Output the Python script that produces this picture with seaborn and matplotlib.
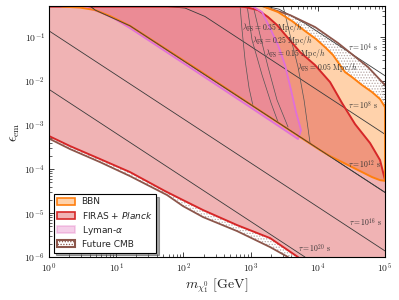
import numpy as np
import pandas as pd
import matplotlib
matplotlib.use("Agg")
import matplotlib.pyplot as plt
import matplotlib.ticker as mticker
from matplotlib.patches import Patch
from matplotlib.font_manager import FontProperties
from matplotlib.colors import to_rgba
import seaborn as sns

# ---------------- data ----------------
# FIRAS + Planck lower boundary
firas_low_m = [1, 2.05, 5.74, 16.0, 53.2, 98.6, 196, 628, 1945, 5070]
firas_low_eps = [5.62e-4, 3.33e-4, 1.69e-4, 8.55e-5, 3.16e-5, 1.97e-5, 1.17e-5, 5.33e-6, 2.70e-6, 1.0e-6]
# FIRAS + Planck upper boundary
firas_up_m = [1, 695, 826, 1289, 1816, 2470, 3603, 5433, 9085, 15190, 22930, 35810, 59850, 84280, 1e5]
firas_up_eps = [0.49, 0.49, 0.481, 0.411, 0.285, 0.1875, 0.0948, 0.0456, 0.0231, 0.00948, 0.00316,
                0.00105, 3.90e-4, 1.60e-4, 5.62e-5]
# BBN lower boundary (follows tau = 1e12 s)
bbn_low_m = [1.3, 1.56, 2.89, 4.84, 8.09, 16.0, 176.6, 979, 5433, 10790, 15190, 21380, 30130,
             45500, 64070, 84280, 1e5]
bbn_low_eps = [0.6, 0.493, 0.468, 0.411, 0.300, 0.18, 0.01687, 0.003, 5.33e-4, 2.70e-4, 1.97e-4,
               1.52e-4, 1.17e-4, 8.55e-5, 6.58e-5, 5.6e-5, 5.4e-5]
# BBN upper boundary
bbn_up_m = [1e5, 84280, 64070, 45500, 32280, 25410, 21380, 16830, 13240, 9400, 6450, 4130, 2558, 1637, 1400]
bbn_up_eps = [2.56e-3, 3.90e-3, 5.62e-3, 8.11e-3, 0.0123, 0.0160, 0.0231, 0.039, 0.0562, 0.0901,
              0.137, 0.231, 0.370, 0.481, 0.6]
# Lyman-alpha boundary
lya_m = [2.5, 2.89, 3.80, 5.74, 9.60, 16.0, 176.6, 979, 2741, 5070, 5623, 4740, 3990, 3250, 2558,
         1945, 1479, 1050, 1000]
lya_eps = [0.6, 0.51, 0.456, 0.370, 0.256, 0.160, 0.0144, 2.56e-3, 9.02e-4, 4.81e-4, 7.69e-4,
           1.97e-3, 6.24e-3, 0.0231, 0.0658, 0.160, 0.370, 0.507, 0.6]
# Future CMB lower / upper boundaries
cmb_low_m = [1, 2.05, 5.74, 16.0, 57.0, 98.6, 196, 628, 1945, 3603]
cmb_low_eps = [4.93e-4, 2.85e-4, 1.44e-4, 6.93e-5, 2.57e-5, 1.44e-5, 8.11e-6, 3.90e-6, 1.69e-6, 1.0e-6]
cmb_up_m = [1e5, 55850, 19990, 9085, 3857, 1479, 1200]
cmb_up_eps = [8.11e-3, 0.0208, 0.0731, 0.169, 0.316, 0.507, 0.6]

# lifetime contours
tau_labels = [r'$\tau = 10^{4}\ \mathrm{s}$', r'$\tau = 10^{8}\ \mathrm{s}$',
              r'$\tau = 10^{12}\ \mathrm{s}$', r'$\tau = 10^{16}\ \mathrm{s}$',
              r'$\tau = 10^{20}\ \mathrm{s}$']
tau_m = [[1500, 2649, 6450, 1e5], [37.8, 105.6, 209, 1e5], [4.0, 4.84, 16.0, 1e5],
         [1, 1e5], [1, 6457]]
tau_eps = [[0.52, 0.43, 0.204, 0.0132], [0.52, 0.456, 0.294, 6.17e-4], [0.52, 0.411, 0.18, 2.95e-5],
           [0.138, 1.38e-6], [6.46e-3, 1e-6]]
tau_text_m = [28130, 28130, 28130, 29110, 5070]
tau_text_eps = [0.0562, 2.70e-3, 1.23e-4, 5.93e-6, 1.52e-6]

# free-streaming contours
lam_labels = [r'$\lambda_{\rm FS} = 0.35\ {\rm Mpc}/h$', r'$\lambda_{\rm FS} = 0.25\ {\rm Mpc}/h$',
              r'$\lambda_{\rm FS} = 0.15\ {\rm Mpc}/h$', r'$\lambda_{\rm FS} = 0.05\ {\rm Mpc}/h$']
lam_m = [[695, 745, 826, 947, 1086], [884, 1050, 1479, 2014, 2558],
         [1086, 1380, 1816, 2470, 3603], [3034, 3857, 5070, 6237, 7656]]
lam_eps = [[0.52, 0.144, 0.030, 6.93e-3, 2.70e-3], [0.52, 0.0855, 0.0137, 3.16e-3, 1.17e-3],
           [0.52, 0.111, 0.0208, 3.70e-3, 9.02e-4], [0.52, 0.111, 0.0208, 3.70e-3, 3.90e-4]]
lam_text_m = [745, 1050, 1637, 4900]
lam_text_eps = [0.169, 0.0855, 0.0433, 0.0208]

x_ticks = [1, 10, 100, 1e3, 1e4, 1e5]
y_ticks = [1e-6, 1e-5, 1e-4, 1e-3, 1e-2, 1e-1]

# ---------------- style ----------------
sns.set_theme(style="ticks")
plt.rcParams['font.family'] = ['DejaVu Sans']
plt.rcParams['mathtext.fontset'] = 'cm'
plt.rcParams['hatch.linewidth'] = 0.6

c_orange = '#ff7f0e'
c_red = '#d62728'
c_pink = '#e377c2'
c_pink_edge = '#e070d8'
c_brown = '#8c564b'

fig = plt.figure(figsize=(3.99, 3.0), dpi=100)
ax = fig.add_axes([0.123, 0.143, 0.842, 0.836])
ax.set_xscale('log')
ax.set_yscale('log')
ax.set_xlim(1, 1e5)
ax.set_ylim(1e-6, 0.5)

# polygons
firas_poly_m = firas_low_m + [1e5] + firas_up_m[::-1]
firas_poly_e = firas_low_eps + [1e-6] + firas_up_eps[::-1]
bbn_poly_m = bbn_low_m + bbn_up_m
bbn_poly_e = bbn_low_eps + bbn_up_eps
cmb_poly_m = cmb_low_m + [1e5] + cmb_up_m + [1]
cmb_poly_e = cmb_low_eps + [1e-6] + cmb_up_eps + [0.6]

# Future CMB hatch
ax.fill(cmb_poly_m, cmb_poly_e, facecolor='none', edgecolor='#b9a9a6', hatch='......', lw=0, zorder=1)
# white underlay
for pm, pe in [(firas_poly_m, firas_poly_e), (bbn_poly_m, bbn_poly_e), (lya_m, lya_eps)]:
    ax.fill(pm, pe, facecolor='white', lw=0, zorder=2)
# coloured fills
ax.fill(bbn_poly_m, bbn_poly_e, facecolor=to_rgba(c_orange, 0.35), lw=0, zorder=3)
ax.fill(firas_poly_m, firas_poly_e, facecolor=to_rgba(c_red, 0.35), lw=0, zorder=3)
ax.fill(lya_m, lya_eps, facecolor=to_rgba(c_pink, 0.35), lw=0, zorder=3)

# lifetime lines
for tm, te in zip(tau_m, tau_eps):
    sns.lineplot(x=tm, y=te, ax=ax, color='#3a3a3a', lw=0.6, sort=False, estimator=None, zorder=4)
for lm_, le_ in zip(lam_m, lam_eps):
    sns.lineplot(x=lm_, y=le_, ax=ax, color='#555555', lw=0.5, sort=False, estimator=None, zorder=4)

# boundaries
sns.lineplot(x=cmb_low_m, y=cmb_low_eps, ax=ax, color=c_brown, lw=1.3, sort=False, estimator=None, zorder=5)
sns.lineplot(x=cmb_up_m, y=cmb_up_eps, ax=ax, color=c_brown, lw=1.3, sort=False, estimator=None, zorder=5)
sns.lineplot(x=firas_low_m, y=firas_low_eps, ax=ax, color=c_red, lw=1.4, sort=False, estimator=None, zorder=6)
sns.lineplot(x=firas_up_m, y=firas_up_eps, ax=ax, color=c_red, lw=1.4, sort=False, estimator=None, zorder=6)
sns.lineplot(x=lya_m, y=lya_eps, ax=ax, color=c_pink_edge, lw=1.3, sort=False, estimator=None, zorder=6)
sns.lineplot(x=bbn_low_m + [1e5], y=bbn_low_eps + [bbn_up_eps[0]], ax=ax, color=c_orange, lw=1.4,
             sort=False, estimator=None, zorder=7)
sns.lineplot(x=bbn_up_m, y=bbn_up_eps, ax=ax, color=c_orange, lw=1.4, sort=False, estimator=None, zorder=7)
# tau = 1e12 line drawn on top of the BBN edge
sns.lineplot(x=tau_m[2], y=tau_eps[2], ax=ax, color='#3a3a3a', lw=0.6, sort=False, estimator=None, zorder=8)

# annotations
for lab, tx, ty in zip(tau_labels, tau_text_m, tau_text_eps):
    ax.text(tx, ty, lab, fontsize=5.5, color='#333333', va='center', ha='left', zorder=9)
for lab, tx, ty in zip(lam_labels, lam_text_m, lam_text_eps):
    ax.text(tx, ty, lab, fontsize=5.5, color='#333333', va='center', ha='left', zorder=9)

# axes formatting
fmt = mticker.FuncFormatter(lambda v, p: r'$10^{%d}$' % int(round(np.log10(v))))
ax.xaxis.set_major_locator(mticker.FixedLocator(x_ticks))
ax.yaxis.set_major_locator(mticker.FixedLocator(y_ticks))
ax.xaxis.set_major_formatter(fmt)
ax.yaxis.set_major_formatter(fmt)
ax.xaxis.set_minor_locator(mticker.LogLocator(base=10, subs=np.arange(2, 10), numticks=20))
ax.yaxis.set_minor_locator(mticker.LogLocator(base=10, subs=np.arange(2, 10), numticks=20))
ax.xaxis.set_minor_formatter(mticker.NullFormatter())
ax.yaxis.set_minor_formatter(mticker.NullFormatter())
ax.tick_params(which='both', direction='in', top=True, right=True, labelsize=7, colors='#222222')
ax.tick_params(which='major', length=3.5, width=0.6, pad=3)
ax.tick_params(which='minor', length=2, width=0.5)
for s in ax.spines.values():
    s.set_linewidth(0.8)
    s.set_color('black')
    s.set_zorder(10)

ax.set_xlabel(r'$m_{\chi_1^0}\ [\mathrm{GeV}]$', fontsize=10, labelpad=1)
ax.set_ylabel(r'$\epsilon_{\rm em}$', fontsize=10, labelpad=2)

# legend
handles = [
    Patch(facecolor=to_rgba(c_orange, 0.35), edgecolor=c_orange, lw=1.2, label='BBN'),
    Patch(facecolor=to_rgba(c_red, 0.35), edgecolor=c_red, lw=1.2, label=r'FIRAS + $\it{Planck}$'),
    Patch(facecolor=to_rgba(c_pink, 0.35), edgecolor=to_rgba(c_pink, 0.35), lw=1.2, label=r'Lyman-$\alpha$'),
    Patch(facecolor='white', edgecolor=c_brown, hatch='......', lw=1.5, label='Future CMB'),
]
leg = ax.legend(handles=handles, loc='lower left', prop=FontProperties(family='DejaVu Sans', size=6.5,
                math_fontfamily='dejavusans'),
                frameon=True, fancybox=False, shadow=True, framealpha=1, edgecolor='black',
                borderaxespad=0.5, handlelength=2.0, handleheight=0.8, labelspacing=0.35,
                borderpad=0.4, handletextpad=0.7)
leg.get_frame().set_linewidth(0.8)
leg.set_zorder(12)

fig.savefig('out.png', dpi=100)
